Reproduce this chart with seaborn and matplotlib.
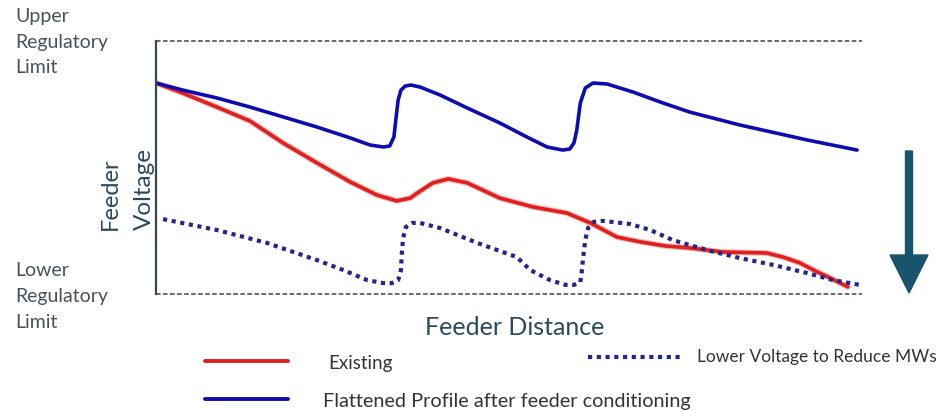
import numpy as np
import pandas as pd
import matplotlib
matplotlib.use('Agg')
import matplotlib.pyplot as plt
import matplotlib.patheffects as pe
from matplotlib.lines import Line2D
from matplotlib.patches import FancyArrow
import seaborn as sns

# feeder distance (0-100 %) and voltage (0 = lower limit, 100 = upper limit)
flat_x = [0, 3.8, 8.6, 13.3, 18.0, 22.8, 27.5, 30.3, 32.2, 33.1, 33.7, 34.0, 34.3, 34.7,
          35.3, 36.1, 37.4, 40.2, 44.1, 48.7, 52.5, 55.4, 57.6, 58.6, 59.2, 59.6, 60.1,
          60.8, 61.9, 63.9, 67.6, 71.4, 75.6, 82.7, 92.2, 99.3]
flat_v = [83.4, 80.6, 77.5, 73.9, 70.0, 66.0, 61.7, 58.9, 58.1, 58.5, 62.1, 69.6, 76.7, 80.6,
          82.2, 82.6, 81.8, 78.7, 73.5, 67.6, 62.1, 58.1, 56.9, 57.3, 59.7, 64.8, 75.5,
          81.4, 83.4, 83.0, 79.8, 75.9, 71.9, 66.8, 60.9, 56.9]

exist_x = [0, 3.8, 8.6, 13.3, 18.0, 22.8, 27.5, 31.3, 34.1, 36.0, 37.0, 39.2, 41.4, 44.1,
           48.7, 53.4, 58.2, 61.5, 65.3, 68.6, 72.1, 75.6, 80.3, 86.5, 88.8, 91.2, 93.1,
           95.5, 98.0]
exist_v = [83.4, 79.4, 73.9, 68.4, 59.7, 51.8, 44.3, 39.1, 36.8, 37.9, 39.9, 43.9, 45.5, 43.9,
           37.9, 34.4, 32.0, 28.1, 22.5, 20.6, 19.0, 18.2, 16.6, 16.2, 14.6, 12.3, 9.5,
           6.3, 2.8]

low_x = [1.0, 8.6, 15.7, 22.8, 26.5, 29.9, 32.2, 33.4, 34.3, 34.7, 34.8, 35.0, 35.4, 36.3,
         37.4, 40.2, 45.5, 51.1, 53.0, 55.8, 58.0, 59.2, 60.1, 60.3, 60.5, 60.8, 61.2,
         62.0, 63.3, 67.1, 70.0, 73.2, 78.0, 82.7, 87.4, 92.2, 95.9, 99.7]
low_v = [29.6, 25.3, 20.2, 13.4, 9.5, 5.5, 4.3, 4.3, 5.5, 9.5, 15.4, 22.1, 26.5, 28.1,
         28.1, 26.1, 20.2, 14.6, 9.5, 5.5, 3.6, 3.6, 4.7, 8.7, 14.2, 21.3, 26.1,
         28.5, 28.9, 27.7, 25.3, 21.3, 17.4, 14.2, 11.5, 8.3, 5.5, 3.6]

labels = ['Existing', 'Flattened Profile after feeder conditioning', 'Lower Voltage to Reduce MWs']

RED = '#e0201e'
BLUE = '#0c0cb0'
NAVY = '#26268a'
SLATE = '#2c4a5e'
GREY = '#48525a'

W, H = 950, 411


def fx(px):
    return px / W


def fy(py):
    return 1 - py / H


sns.set_style('white')
plt.rcParams['font.family'] = ['Lato', 'DejaVu Sans']

fig = plt.figure(figsize=(W / 100, H / 100), dpi=100)
ax = fig.add_axes([fx(156), fy(294), fx(862) - fx(156), fy(41) - fy(294)])

df_exist = pd.DataFrame({'x': exist_x, 'v': exist_v})
df_flat = pd.DataFrame({'x': flat_x, 'v': flat_v})
df_low = pd.DataFrame({'x': low_x, 'v': low_v})

glow = [pe.Stroke(linewidth=4.2, foreground='#f4b8b8'), pe.Normal()]
sns.lineplot(data=df_exist, x='x', y='v', ax=ax, sort=False, estimator=None,
             color=RED, linewidth=2.6, solid_joinstyle='round', solid_capstyle='round',
             path_effects=glow)
sns.lineplot(data=df_flat, x='x', y='v', ax=ax, sort=False, estimator=None,
             color=BLUE, linewidth=2.6, solid_joinstyle='round', solid_capstyle='round')
sns.lineplot(data=df_low, x='x', y='v', ax=ax, sort=False, estimator=None,
             color=NAVY, linewidth=3.0, linestyle=(0, (1, 1.1)), dash_capstyle='butt')

# regulatory limits
ax.axhline(100, color='#444444', linewidth=1.1, dashes=(3, 1.6), clip_on=False)
ax.axhline(0, color='#444444', linewidth=1.1, dashes=(3, 1.6), clip_on=False)

ax.set_xlim(0, 100)
ax.set_ylim(0, 100)
ax.set_xticks([])
ax.set_yticks([])
ax.set_xlabel('')
ax.set_ylabel('')
for s in ['top', 'right', 'bottom']:
    ax.spines[s].set_visible(False)
ax.spines['left'].set_color('#3a4850')
ax.spines['left'].set_linewidth(1.6)

# limit labels
for txt, py in [('Upper', 22), ('Regulatory', 48), ('Limit', 73),
                ('Lower', 276), ('Regulatory', 302), ('Limit', 328)]:
    fig.text(fx(15), fy(py), txt, fontsize=14, color=GREY, va='baseline', ha='left')

# axis titles
fig.text(fx(110), fy(230), 'Feeder', rotation=90, fontsize=17, color=SLATE, ha='center', va='bottom')
fig.text(fx(144), fy(230), 'Voltage', rotation=90, fontsize=17.5, color=SLATE, ha='center', va='bottom')
fig.text(fx(515), fy(327), 'Feeder Distance', fontsize=18, color=SLATE, ha='center', va='center')

# legend
fig.add_artist(Line2D([fx(205), fx(288)], [fy(361), fy(361)], color=RED, linewidth=2.8))
fig.add_artist(Line2D([fx(205), fx(288)], [fy(399), fy(399)], color=BLUE, linewidth=2.8))
fig.add_artist(Line2D([fx(588), fx(680)], [fy(357), fy(357)], color=NAVY, linewidth=3.0,
                      linestyle=(0, (1, 1.1)), dash_capstyle='butt'))
fig.text(fx(328), fy(363), labels[0], fontsize=13.5, color='#333333', va='center', ha='left')
fig.text(fx(323), fy(401), labels[1], fontsize=14.3, color='#333333', va='center', ha='left')
fig.text(fx(697), fy(357), labels[2], fontsize=12.5, color='#333333', va='center', ha='left')

# downward arrow
fig.add_artist(FancyArrow(fx(909), fy(151), 0, fy(293) - fy(151), width=7 / W,
                          head_width=38 / W, head_length=38 / H,
                          length_includes_head=True, color='#18546c',
                          transform=fig.transFigure))

fig.savefig('out.png', dpi=100)
